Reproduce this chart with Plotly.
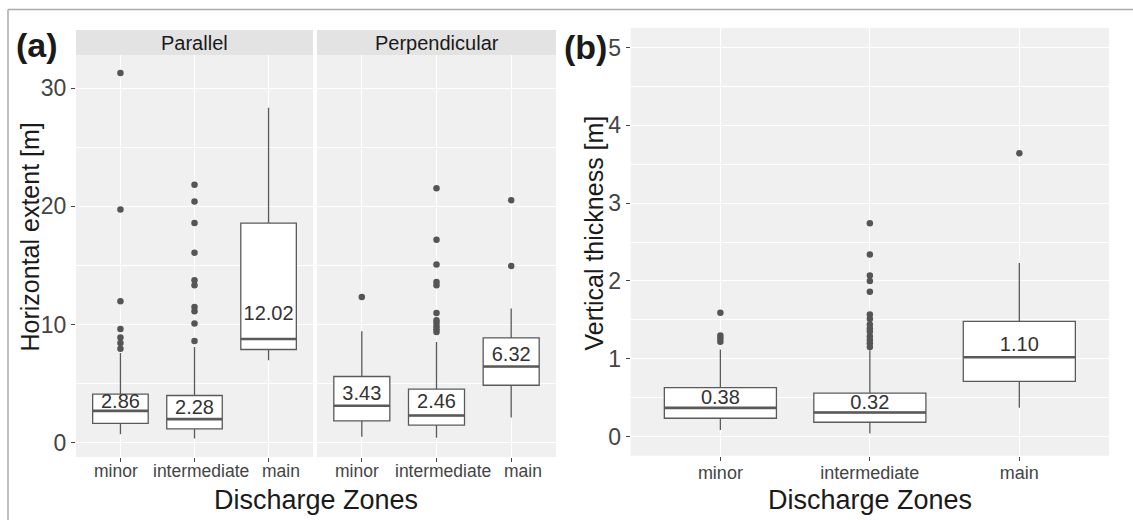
import plotly.graph_objects as go

W, H = 1133, 520

cats = ["minor", "intermediate", "main"]

# Panel (a) Parallel – horizontal extent [m]
par_q1 = [1.64, 1.18, 7.89]
par_med = [2.70, 2.00, 8.78]
par_q3 = [4.11, 4.00, 18.58]
par_lo = [0.73, 0.37, 6.98]
par_hi = [7.6, 8.1, 28.33]
par_out = [
    [7.95, 8.45, 8.9, 9.63, 11.97, 19.74, 31.28],
    [8.61, 10.1, 11.12, 11.49, 13.32, 13.74, 16.08, 18.6, 20.41, 21.82],
    [],
]
par_mean = [2.86, 2.28, 12.02]
par_label_y = [3.33, 2.85, 10.84]

# Panel (a) Perpendicular
perp_q1 = [1.86, 1.49, 4.87]
perp_med = [3.13, 2.31, 6.45]
perp_q3 = [5.61, 4.54, 8.87]
perp_lo = [0.51, 0.42, 2.14]
perp_hi = [9.43, 8.53, 11.35]
perp_out = [
    [12.33],
    [9.38, 9.6, 9.86, 10.14, 10.36, 10.98, 13.32, 13.6, 15.09, 17.18, 21.54],
    [14.95, 20.52],
]
perp_mean = [3.43, 2.46, 6.32]
perp_label_y = [4.03, 3.33, 7.32]

# Panel (b) – vertical thickness [m]
vt_q1 = [0.236, 0.185, 0.71]
vt_med = [0.37, 0.31, 1.02]
vt_q3 = [0.63, 0.56, 1.48]
vt_lo = [0.086, 0.04, 0.37]
vt_hi = [1.12, 1.11, 2.23]
vt_out = [
    [1.22, 1.26, 1.30, 1.59],
    [1.15, 1.2, 1.24, 1.29, 1.35, 1.39, 1.44, 1.51, 1.57, 1.86, 2.0, 2.07, 2.34, 2.74],
    [3.64],
]
vt_mean = [0.38, 0.32, 1.10]
vt_label_y = [0.48, 0.42, 1.17]

FONT = "Liberation Sans, Arial, sans-serif"
BOXC = "#5a5a5a"
BOXW = 0.75
TICKC = "#444444"

fig = go.Figure()


def add_panel(xa, ya, q1, med, q3, lo, hi, outs, means, label_y):
    pos = list(range(len(cats)))
    fig.add_trace(go.Box(
        x=pos, q1=q1, median=med, q3=q3, lowerfence=lo, upperfence=hi,
        width=BOXW, whiskerwidth=0, boxpoints=False,
        fillcolor="white", line=dict(color=BOXC, width=1.3),
        xaxis=xa, yaxis=ya, showlegend=False, hoverinfo="skip",
    ))
    mx, my = [], []
    for i, m in enumerate(med):
        mx += [i - BOXW / 2, i + BOXW / 2, None]
        my += [m, m, None]
    fig.add_trace(go.Scatter(
        x=mx, y=my, mode="lines", line=dict(color=BOXC, width=2.6),
        xaxis=xa, yaxis=ya, showlegend=False, hoverinfo="skip",
    ))
    ox, oy = [], []
    for i, vals in enumerate(outs):
        ox += [i] * len(vals)
        oy += vals
    fig.add_trace(go.Scatter(
        x=ox, y=oy, mode="markers",
        marker=dict(color="#555555", size=6.5, line=dict(width=0)),
        xaxis=xa, yaxis=ya, showlegend=False, hoverinfo="skip",
    ))
    fig.add_trace(go.Scatter(
        x=pos, y=label_y, mode="text", text=[f"{m:.2f}" for m in means],
        textposition="middle center",
        textfont=dict(family=FONT, size=20, color="#333333"),
        xaxis=xa, yaxis=ya, showlegend=False, hoverinfo="skip",
    ))


add_panel("x", "y", par_q1, par_med, par_q3, par_lo, par_hi, par_out, par_mean, par_label_y)
add_panel("x2", "y2", perp_q1, perp_med, perp_q3, perp_lo, perp_hi, perp_out, perp_mean, perp_label_y)
add_panel("x3", "y3", vt_q1, vt_med, vt_q3, vt_lo, vt_hi, vt_out, vt_mean, vt_label_y)


def px_x(p):
    return p / W


def px_y(p):
    return 1 - p / H


PANEL_BG = "#f0f0f0"
xcommon = dict(
    range=[-0.6, 2.6], tickvals=[0, 1, 2], ticktext=cats, tickangle=0, automargin=False,
    showgrid=True, gridcolor="white", gridwidth=1.4, zeroline=False,
    ticks="outside", ticklen=4, tickcolor=TICKC, tickwidth=1,
    ticklabelstandoff=-3,
    tickfont=dict(family=FONT, size=18, color=TICKC), showline=False,
)
ycommon = dict(
    showgrid=True, gridcolor="white", gridwidth=1.4, zeroline=False, automargin=False,
    ticks="outside", ticklen=4, tickcolor=TICKC, tickwidth=1,
    tickfont=dict(family=FONT, size=23, color=TICKC), showline=False,
)

ya_dom = [px_y(457), px_y(55)]
yb_dom = [px_y(455.7), px_y(28)]

fig.update_layout(
    width=W, height=H, margin=dict(l=0, r=0, t=0, b=0, autoexpand=False),
    paper_bgcolor="white", plot_bgcolor=PANEL_BG,
    font=dict(family=FONT),
    # panel (a) tick labels are drawn as annotations below (they are spread apart in the original)
    xaxis=dict(domain=[px_x(76), px_x(313)], anchor="y", **{**xcommon, "showticklabels": False}),
    xaxis2=dict(domain=[px_x(317), px_x(556)], anchor="y2", **{**xcommon, "showticklabels": False}),
    xaxis3=dict(domain=[px_x(630.7), px_x(1109)], anchor="y3", **xcommon),
    yaxis=dict(domain=ya_dom, anchor="x", range=[-1.2, 32.8], tickvals=[0, 10, 20, 30],
               minor=dict(tickvals=[5, 15, 25], showgrid=True, gridcolor="white", gridwidth=0.7, ticks=""),
               **ycommon),
    yaxis2=dict(domain=ya_dom, anchor="x2", range=[-1.2, 32.8], tickvals=[0, 10, 20, 30],
                showticklabels=False, ticks="",
                minor=dict(tickvals=[5, 15, 25], showgrid=True, gridcolor="white", gridwidth=0.7, ticks=""),
                **{k: v for k, v in ycommon.items() if k not in ("ticks",)}),
    yaxis3=dict(domain=yb_dom, anchor="x3", range=[-0.245, 5.25], tickvals=[0, 1, 2, 3, 4, 5],
                minor=dict(tickvals=[0.5, 1.5, 2.5, 3.5, 4.5], showgrid=True, gridcolor="white", gridwidth=0.7, ticks=""),
                **ycommon),
)

shapes = []
# strips
for x0, x1 in [(76, 313), (317, 556)]:
    shapes.append(dict(type="rect", xref="paper", yref="paper",
                       x0=px_x(x0), x1=px_x(x1), y0=px_y(55), y1=px_y(30),
                       fillcolor="#e3e3e3", line=dict(width=0), layer="below"))
# outer frame (top and left edges)
shapes.append(dict(type="line", xref="paper", yref="paper",
                   x0=px_x(8), x1=1, y0=px_y(9.5), y1=px_y(9.5),
                   line=dict(color="#aaaaaa", width=1.5)))
shapes.append(dict(type="line", xref="paper", yref="paper",
                   x0=px_x(8), x1=px_x(8), y0=0, y1=px_y(9.5),
                   line=dict(color="#aaaaaa", width=1.5)))
fig.update_layout(shapes=shapes)

ann = []
# panel (a) category labels
tick_shift = [-4.5, 6, 12]
for xr in ("x", "x2"):
    for i, c in enumerate(cats):
        ann.append(dict(text=c, xref=xr, yref="paper", x=i, y=px_y(471), xshift=tick_shift[i],
                        xanchor="center", yanchor="middle", showarrow=False,
                        font=dict(family=FONT, size=17.5, color=TICKC)))
for txt, xc in [("Parallel", (76 + 313) / 2), ("Perpendicular", (317 + 556) / 2)]:
    ann.append(dict(text=txt, xref="paper", yref="paper", x=px_x(xc), y=px_y(42.5),
                    xanchor="center", yanchor="middle", showarrow=False,
                    font=dict(family=FONT, size=20, color="#1a1a1a")))
for txt, xc in [("Discharge Zones", 316), ("Discharge Zones", 870)]:
    ann.append(dict(text=txt, xref="paper", yref="paper", x=px_x(xc), y=px_y(500),
                    xanchor="center", yanchor="middle", showarrow=False,
                    font=dict(family=FONT, size=27, color="#1a1a1a")))
for txt, xc, yc in [("Horizontal extent [m]", 30, 237.5), ("Vertical thickness [m]", 594, 233.5)]:
    ann.append(dict(text=txt, xref="paper", yref="paper", x=px_x(xc), y=px_y(yc),
                    xanchor="center", yanchor="middle", showarrow=False, textangle=-90,
                    font=dict(family=FONT, size=25, color="#1a1a1a")))
for txt, xc, yc in [("(a)", 36.5, 45), ("(b)", 585.5, 46.5)]:
    ann.append(dict(text=f"<b>{txt}</b>", xref="paper", yref="paper", x=px_x(xc), y=px_y(yc),
                    xanchor="center", yanchor="middle", showarrow=False,
                    font=dict(family=FONT, size=34, color="#1a1a1a")))
fig.update_layout(annotations=ann)

fig.write_html("out.html")
